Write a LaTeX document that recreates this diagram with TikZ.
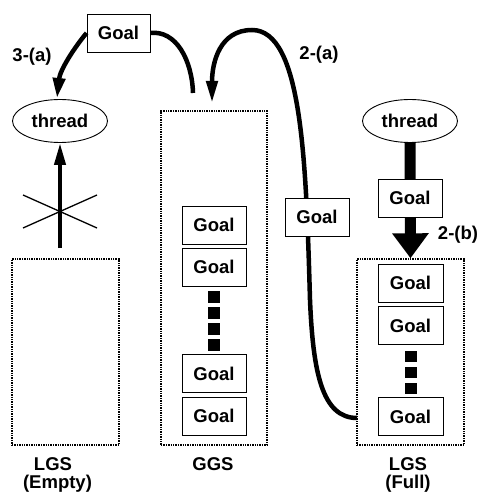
\documentclass[tikz,border=0pt]{standalone}
\usepackage{fontspec}
\setmainfont{Liberation Sans}
\usetikzlibrary{arrows.meta,shapes.geometric}
\begin{document}
\begin{tikzpicture}[x=1pt,y=-1pt,
  font=\fontsize{18.5}{20}\selectfont\bfseries,
  goalbox/.style={draw,fill=white,line width=0.9pt,minimum width=64pt,minimum height=38pt,inner sep=0pt},
  threadell/.style={draw,ellipse,line width=0.9pt,minimum width=95pt,minimum height=43pt,inner sep=0pt},
  store/.style={draw,dash pattern=on 1.4pt off 1pt,line width=1.4pt,inner sep=0pt},
  sq/.style={fill=black,minimum size=12pt,inner sep=0pt},
  thickline/.style={line width=4.5pt},
  lbl/.style={inner sep=0pt}]
\useasboundingbox (0,0) rectangle (479,494);
% storage containers
\node[store,minimum width=107pt,minimum height=186pt] (lgsE) at (65.5,352) {};
\node[store,minimum width=106pt,minimum height=334pt] (ggs) at (214,278) {};
\node[store,minimum width=107pt,minimum height=186pt] (lgsF) at (410.5,352) {};
% threads
\node[threadell] (thL) at (60,121) {thread};
\node[threadell] (thR) at (410,121) {thread};
% coordinates
\coordinate (upStart) at (60,248);
\coordinate (ggsIn) at (212,103);
\coordinate (ggsOut) at (193,93);
\coordinate (fullOut) at (357,418);
% curve 2-(a)
\draw[thickline,-{Triangle[width=11pt,length=22pt]}] (fullOut)
  .. controls (322,418) and (313,372) .. (310,300)
  .. controls (306,160) and (302,30) .. (252,30)
  .. controls (220,30) and (212,62) .. (ggsIn);
% big arrow 2-(b)
\draw[line width=11pt,-{Triangle[width=35pt,length=25pt]}] (thR.south) -- (lgsF.north);
% goal nodes
\node[goalbox,minimum width=63pt] (gTop) at (118.5,33) {Goal};
\node[goalbox] (gMid) at (317,217) {Goal};
\node[goalbox] (gRight) at (410,198) {Goal};
% curve 3-(a) and curve into GGS
\draw[thickline,-{Triangle[width=12pt,length=20pt]}] (gTop.west)
  .. controls (74,48) and (60,70) .. (57,98);
\draw[thickline] (gTop.east) .. controls (176,30) and (192,60) .. (ggsOut);
% up arrow with cross
\draw[line width=4pt,-{Triangle[width=11pt,length=22pt]}] (upStart) -- (thL.south);
\draw[line width=1.3pt] (23,195) -- (97,228) (23,228) -- (97,195);
% GGS goals
\node[goalbox] (g1) at (214,225) {Goal};
\node[goalbox] (g2) at (214,267) {Goal};
\node[goalbox] (g3) at (214,373.5) {Goal};
\node[goalbox] (g4) at (214,416) {Goal};
\foreach \y in {296.5,312.5,328.5,344.5} \node[sq] at (214,\y) {};
% LGS full goals
\node[goalbox,minimum width=65pt] (f1) at (410.5,283) {Goal};
\node[goalbox,minimum width=65pt] (f2) at (410.5,325.5) {Goal};
\node[goalbox,minimum width=65pt] (f3) at (410.5,416.5) {Goal};
\foreach \y in {356,372,388} \node[sq,minimum width=12pt,minimum height=11pt] at (411,\y) {};
% labels
\node[lbl] (l3a) at (32,57) {3-(a)};
\node[lbl] (l2a) at (319,55) {2-(a)};
\node[lbl] (l2b) at (458,235) {2-(b)};
\node[lbl,anchor=base] (lLGSe) at (53,470) {LGS};
\node[lbl,anchor=base] (lEmpty) at (57.5,488) {(Empty)};
\node[lbl,anchor=base] (lGGS) at (213,470) {GGS};
\node[lbl,anchor=base] (lLGSf) at (408,470) {LGS};
\node[lbl,anchor=base] (lFull) at (408,488) {(Full)};
\end{tikzpicture}
\end{document}
